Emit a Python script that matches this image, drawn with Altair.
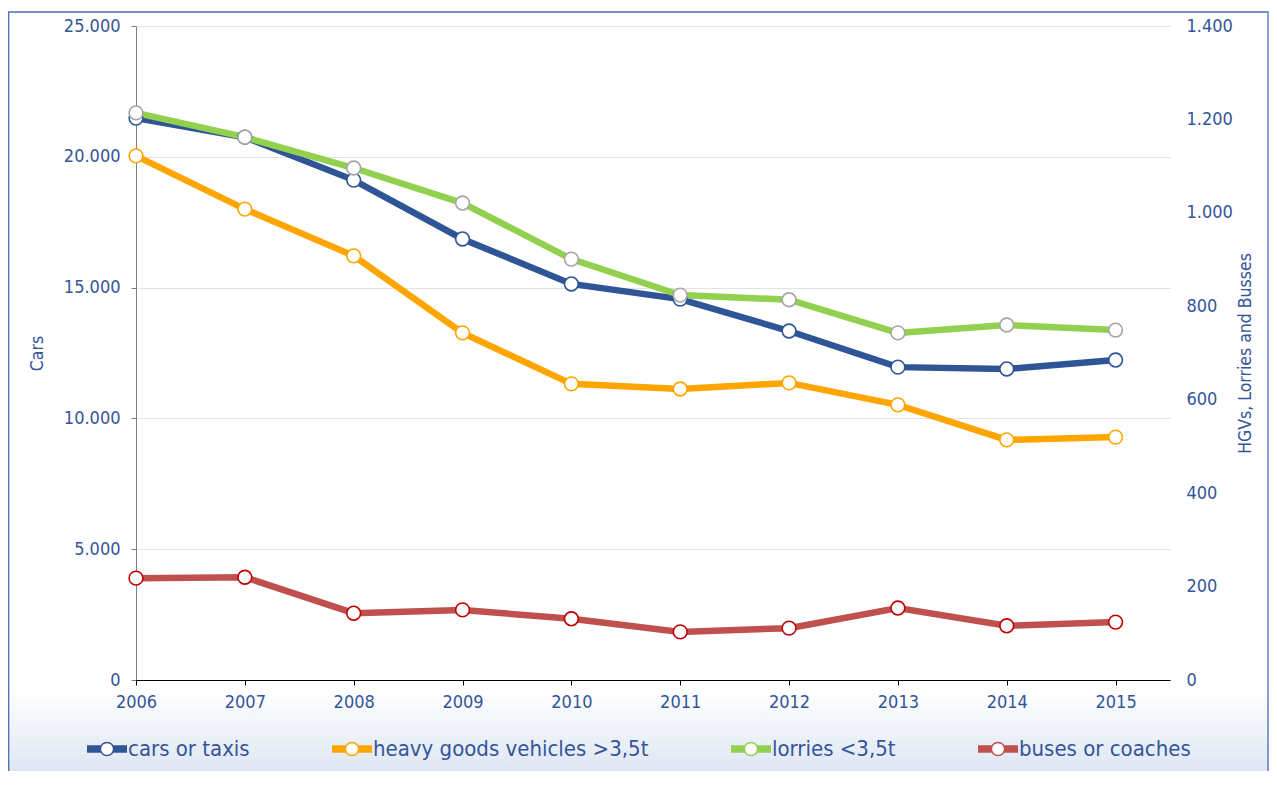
import altair as alt
import pandas as pd
import math

years = [2006, 2007, 2008, 2009, 2010, 2011, 2012, 2013, 2014, 2015]
cars = [21480, 20750, 19110, 16860, 15140, 14560, 13340, 11960, 11890, 12230]
hgv = [1122, 1008, 908, 743, 634, 623, 636, 589, 514, 520]
lorries = [1214, 1162, 1096, 1021, 901, 824, 814, 743, 760, 749]
buses = [218, 220, 143, 150, 131, 103, 111, 154, 116, 124]

series_names = ["cars or taxis", "heavy goods vehicles >3,5t", "lorries <3,5t", "buses or coaches"]
line_colors = ["#2F5597", "#FFA500", "#92D050", "#C0504D"]
marker_colors = ["#2F5597", "#FFA500", "#A6A6A6", "#C00000"]

left_ticks = [0, 5000, 10000, 15000, 20000, 25000]
right_ticks = [0, 200, 400, 600, 800, 1000, 1200, 1400]

rows = []
for name, vals in zip(series_names, [cars, hgv, lorries, buses]):
    for yr, v in zip(years, vals):
        rows.append({"year": yr, "series": name, "value": v})
df = pd.DataFrame(rows)
left_df = df[df["series"] == series_names[0]]
right_df = df[df["series"] != series_names[0]]

FONT = "DejaVu Sans Condensed"
TXT = "#34559A"
W, H = 1034, 654
LBL = "replace(format(datum.value, ','), ',', '.')"

# legend symbol: thick line (drawn as parallel thin strokes) with a hollow circle in the middle
R = 0.33
parts = []
for yy in [-0.15, -0.09, -0.03, 0.03, 0.09, 0.15]:
    x0 = round(math.sqrt(R * R - yy * yy), 4)
    parts.append(f"M-1,{yy}L-{x0},{yy}M{x0},{yy}L1,{yy}")
parts.append(f"M-{R},0A{R},{R},0,1,1,{R},0A{R},{R},0,1,1,-{R},0Z")
SYMBOL = "".join(parts)

x_enc = alt.X(
    "year:Q",
    scale=alt.Scale(domain=[2006, 2015.5], nice=False, zero=False),
    axis=alt.Axis(values=years, format="d", title=None, grid=False,
                  domainColor="#000000", tickColor="#000000", tickSize=5,
                  labelPadding=8, labelFont=FONT, labelFontSize=18, labelColor=TXT,
                  labelFlush=False, zindex=2),
)

left_scale = alt.Scale(domain=[0, 25000], nice=False)
right_scale = alt.Scale(domain=[0, 1400], nice=False)

left_axis = alt.Axis(values=left_ticks, labelExpr=LBL, title="Cars", orient="left",
                     grid=True, gridColor="#E3E3E3", domainColor="#7F7F7F", tickColor="#7F7F7F",
                     tickSize=5, labelPadding=11, labelFont=FONT, labelFontSize=18, labelColor=TXT,
                     titleFont=FONT, titleFontSize=17.5, titleColor=TXT, titleFontWeight="normal",
                     titlePadding=17)
right_axis = alt.Axis(values=right_ticks, labelExpr=LBL, title="HGVs, Lorries and Busses",
                      orient="right", grid=False, domain=False, ticks=False,
                      labelPadding=16, labelFont=FONT, labelFontSize=18, labelColor=TXT,
                      titleFont=FONT, titleFontSize=17.5, titleColor=TXT, titleFontWeight="normal",
                      titlePadding=22, titleAngle=270)

color_enc = alt.Color("series:N",
                      scale=alt.Scale(domain=series_names, range=line_colors),
                      legend=alt.Legend(orient="none", legendX=-50, legendY=702, direction="horizontal",
                                        title=None, labelFont=FONT, labelFontSize=22, labelLimit=600,
                                        labelColor=TXT, labelOffset=0, padding=0, columnPadding=79,
                                        symbolType=SYMBOL, symbolSize=1600, symbolStrokeWidth=1.5,
                                        symbolFillColor="#FFFFFF", symbolOpacity=1))
stroke_enc = alt.Stroke("series:N",
                        scale=alt.Scale(domain=series_names, range=marker_colors),
                        legend=None)

line_left = alt.Chart(left_df).mark_line(strokeWidth=6.5).encode(
    x=x_enc, y=alt.Y("value:Q", scale=left_scale, axis=left_axis), color=color_enc)
line_right = alt.Chart(right_df).mark_line(strokeWidth=6.5).encode(
    x=x_enc, y=alt.Y("value:Q", scale=right_scale, axis=right_axis), color=color_enc,
    detail="series:N")
pts_left = alt.Chart(left_df).mark_point(filled=True, fill="#FFFFFF", size=190, strokeWidth=1.6, opacity=1).encode(
    x=x_enc, y=alt.Y("value:Q", scale=left_scale, axis=None), stroke=stroke_enc)
pts_right = alt.Chart(right_df).mark_point(filled=True, fill="#FFFFFF", size=190, strokeWidth=1.6, opacity=1).encode(
    x=x_enc, y=alt.Y("value:Q", scale=right_scale, axis=None), stroke=stroke_enc)

grad = alt.LinearGradient(gradient="linear", x1=0, x2=0, y1=0, y2=1,
                          stops=[alt.GradientStop(color="#FFFFFF", offset=0),
                                 alt.GradientStop(color="#D8E2F1", offset=1)])
bg = alt.Chart(alt.Data(values=[{}])).mark_rect(color=grad).encode(
    x=alt.value(-128), x2=alt.value(1133), y=alt.value(664), y2=alt.value(761))
frame = alt.Chart(alt.Data(values=[{}])).mark_rect(fillOpacity=0, stroke="#4A6DAE", strokeWidth=1.3).encode(
    x=alt.value(-127.3), x2=alt.value(1132), y=alt.value(-14), y2=alt.value(800))

chart = alt.layer(bg, line_left, line_right, pts_left, pts_right, frame).resolve_scale(
    y="independent"
).properties(
    width=W, height=H,
    padding={"left": 128, "top": 18, "right": 99, "bottom": 91},
    autosize=alt.AutoSizeParams(type="none"),
    background="#FFFFFF",
).configure_view(stroke=None)

chart.save("out.html", embed_options={"renderer": "svg", "actions": False})
